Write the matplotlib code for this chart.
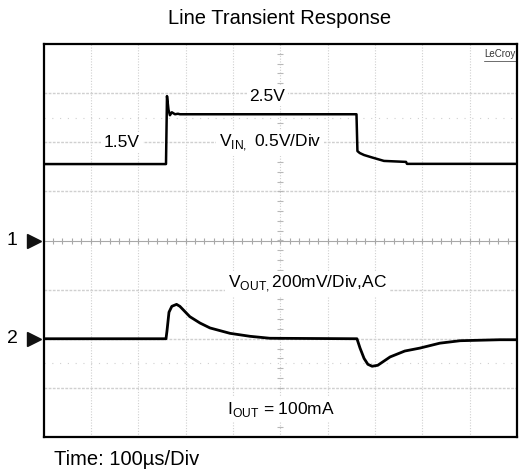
import matplotlib.pyplot as plt
import numpy as np

plt.rcParams['font.family'] = ['Liberation Sans', 'DejaVu Sans']

# scope traces: time in us, level in screen divisions (0 = centre line)
vin_t = [0, 258.7, 260.8, 264, 267, 271, 277.7, 284, 288, 661, 663, 668, 677,
         694, 719, 765.6, 767.7, 1000]
vin_y = [1.556, 1.556, 2.94, 2.66, 2.55, 2.61, 2.57, 2.58, 2.57, 2.57, 1.82,
         1.78, 1.74, 1.69, 1.62, 1.60, 1.56, 1.56]

vout_t = [0, 258.7, 260.8, 265, 271, 281, 288, 309, 330.5, 351.6, 394, 436,
          478, 662, 668.5, 677, 685, 694, 706, 732, 763, 795, 837, 880, 964, 1000]
vout_y = [-2.0, -2.0, -1.84, -1.46, -1.34, -1.30, -1.34, -1.55, -1.68, -1.78,
          -1.89, -1.95, -1.99, -2.0, -2.19, -2.40, -2.52, -2.56, -2.54, -2.37,
          -2.25, -2.19, -2.09, -2.04, -2.02, -2.02]

markers = [("1", 0.0), ("2", -2.0)]

fig = plt.figure(figsize=(5.19, 4.73), dpi=100)
ax = fig.add_axes([43.5 / 519, 36 / 473, 473.5 / 519, 393 / 473])
ax.set_xlim(0, 1000)
ax.set_ylim(-4, 4)
ax.set_xticks([])
ax.set_yticks([])
for s in ax.spines.values():
    s.set_linewidth(1.6)

grid_c = '#d0d0d0'
for x in range(100, 1000, 100):
    if x != 500:
        ax.axvline(x, color=grid_c, lw=0.8, ls=(0, (1, 1.5)), zorder=0)
for y in range(-3, 4):
    if y != 0:
        ax.axhline(y, color=grid_c, lw=1.0, ls=(0, (2, 1)), zorder=0)
# centre cross with minor ticks
ax.axhline(0, color='#a8a8a8', lw=0.8, zorder=0)
ax.axvline(500, color=grid_c, lw=0.8, ls=(0, (1, 1.5)), zorder=0)
ticks_x = np.arange(0, 1001, 20)
ax.plot(ticks_x, np.zeros_like(ticks_x), ls='none', marker='|', ms=4,
        color='#a8a8a8', mew=0.8, zorder=0)
ticks_y = np.arange(-4, 4.01, 0.2)
ax.plot(np.full_like(ticks_y, 500), ticks_y, ls='none', marker='_', ms=4,
        color='#b8b8b8', mew=0.8, zorder=0)
# faint ghost dots
ax.axhline(2.5, color='#d0d0d0', lw=0.8, ls=(0, (1, 6)), zorder=0)
ax.axhline(-2.5, color='#d0d0d0', lw=0.8, ls=(0, (1, 6)), zorder=0)

ax.plot(vin_t, vin_y, color='black', lw=1.8, zorder=3)
ax.plot(vout_t, vout_y, color='black', lw=2.0, zorder=3)

fs = 12.5
box = dict(facecolor='white', edgecolor='none', pad=2)
ax.text(473, 2.94, '2.5V', fontsize=fs, ha='center', va='center', bbox=box, zorder=4)
ax.text(166, 1.99, '1.5V', fontsize=fs, ha='center', va='center', bbox=box, zorder=4)
ax.text(370, 1.99, r'V$_{\mathregular{IN,}}$ 0.5V/Div', fontsize=fs, ha='left',
        va='center', bbox=box, zorder=4)
ax.text(390, -0.88, r'V$_{\mathregular{OUT,}}$200mV/Div,AC', fontsize=fs, ha='left',
        va='center', bbox=box, zorder=4)
ax.text(388, -3.44, r'I$_{\mathregular{OUT}}$ = 100mA', fontsize=fs, ha='left',
        va='center', bbox=box, zorder=4)

ax.text(0.997, 0.988, 'LeCroy', fontsize=7, color='#333333', ha='right',
        va='top', transform=ax.transAxes)
ax.plot([0.93, 0.997], [0.957, 0.957], color='#333333', lw=0.5,
        transform=ax.transAxes, clip_on=False)

for lab, y in markers:
    ax.plot([-0.02], [y], marker='>', ms=10, color='#111111',
            transform=ax.get_yaxis_transform(), clip_on=False)
    ax.text(-0.055, y, lab, fontsize=14, ha='right', va='center',
            transform=ax.get_yaxis_transform())

fig.text(280 / 519, 1 - 18 / 473, 'Line Transient Response', fontsize=14.5,
         ha='center', va='center')
fig.text(54 / 519, 1 - 459 / 473, 'Time: 100µs/Div', fontsize=14.5,
         ha='left', va='center')

fig.savefig('out.png', dpi=100)
